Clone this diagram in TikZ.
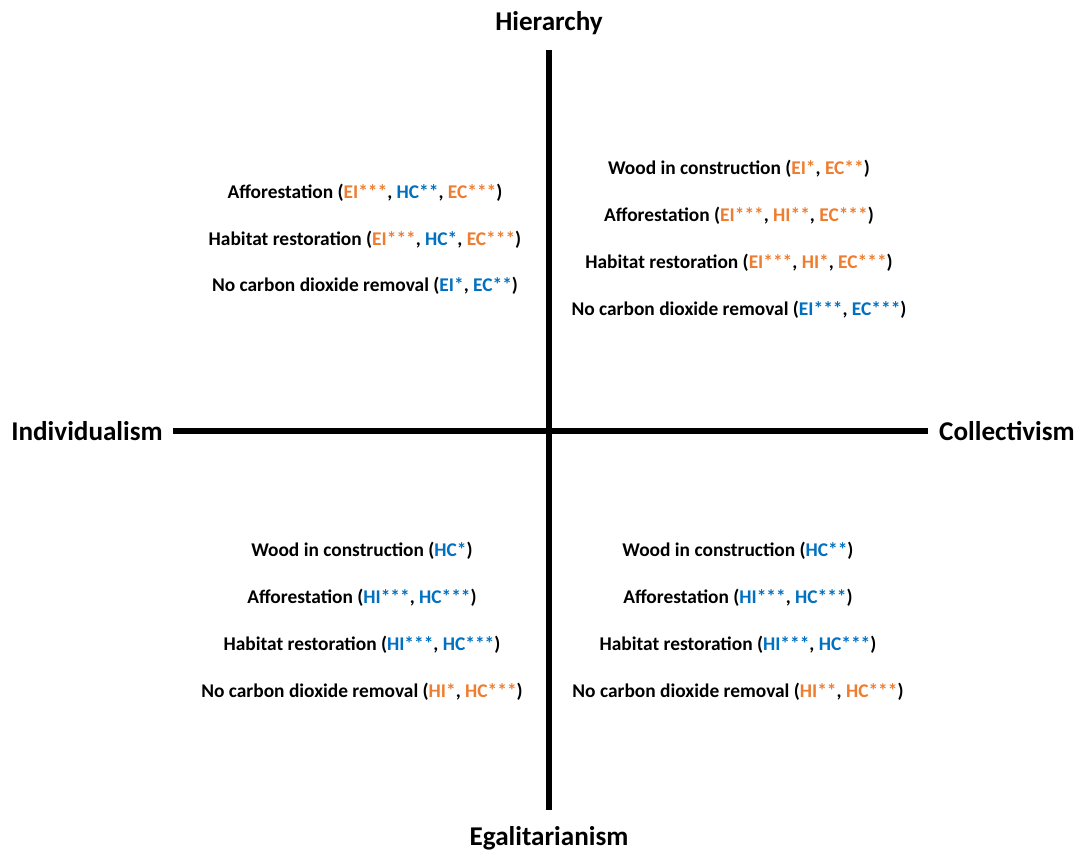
\documentclass[tikz,border=0pt]{standalone}
\usepackage{fontspec}
\setmainfont{Carlito}
\usepackage{tikz}
\usetikzlibrary{positioning}
\definecolor{ratingorange}{RGB}{237,125,49}
\definecolor{ratingblue}{RGB}{0,112,192}
\newcommand{\ro}[1]{{\color{ratingorange}#1}}
\newcommand{\rb}[1]{{\color{ratingblue}#1}}

\begin{document}
\begin{tikzpicture}[
    axislabel/.style={font=\fontsize{19.3}{21}\selectfont\bfseries},
    quadtext/.style={font=\fontsize{13.8}{33.3}\selectfont\bfseries,align=center}
]
    \useasboundingbox (-13.725,-10.525) rectangle (13.2,10.775);

    % Achsen
    \node[axislabel] (hier) at (0,10.2) {Hierarchy};
    \node[axislabel] (egal) at (0,-10.175) {Egalitarianism};
    \node[axislabel] (indiv) at (-11.55,0) {Individualism};
    \node[axislabel] (coll) at (11.45,0) {Collectivism};
    \coordinate (top) at (0,9.525);
    \coordinate (bottom) at (0,-9.475);
    \coordinate (left) at (-9.4,0);
    \coordinate (right) at (9.475,0);
    \draw[line width=4.3pt] (top) -- (bottom);
    \draw[line width=4.3pt] (left) -- (right);

    % Quadranten
    \node[quadtext] (hierind) at (-4.6,4.79) {
        Afforestation (\ro{EI***}, \rb{HC**}, \ro{EC***}) \\
        Habitat restoration (\ro{EI***}, \rb{HC*}, \ro{EC***}) \\
        No carbon dioxide removal (\rb{EI*}, \rb{EC**})
    };
    \node[quadtext] (hiercoll) at (4.75,4.79) {
        Wood in construction (\ro{EI*}, \ro{EC**}) \\
        Afforestation (\ro{EI***}, \ro{HI**}, \ro{EC***}) \\
        Habitat restoration (\ro{EI***}, \ro{HI*}, \ro{EC***}) \\
        No carbon dioxide removal (\rb{EI***}, \rb{EC***})
    };
    \node[quadtext] (egalind) at (-4.675,-4.76) {
        Wood in construction (\rb{HC*}) \\
        Afforestation (\rb{HI***}, \rb{HC***}) \\
        Habitat restoration (\rb{HI***}, \rb{HC***}) \\
        No carbon dioxide removal (\ro{HI*}, \ro{HC***})
    };
    \node[quadtext] (egalcoll) at (4.725,-4.76) {
        Wood in construction (\rb{HC**}) \\
        Afforestation (\rb{HI***}, \rb{HC***}) \\
        Habitat restoration (\rb{HI***}, \rb{HC***}) \\
        No carbon dioxide removal (\ro{HI**}, \ro{HC***})
    };
\end{tikzpicture}
\end{document}
